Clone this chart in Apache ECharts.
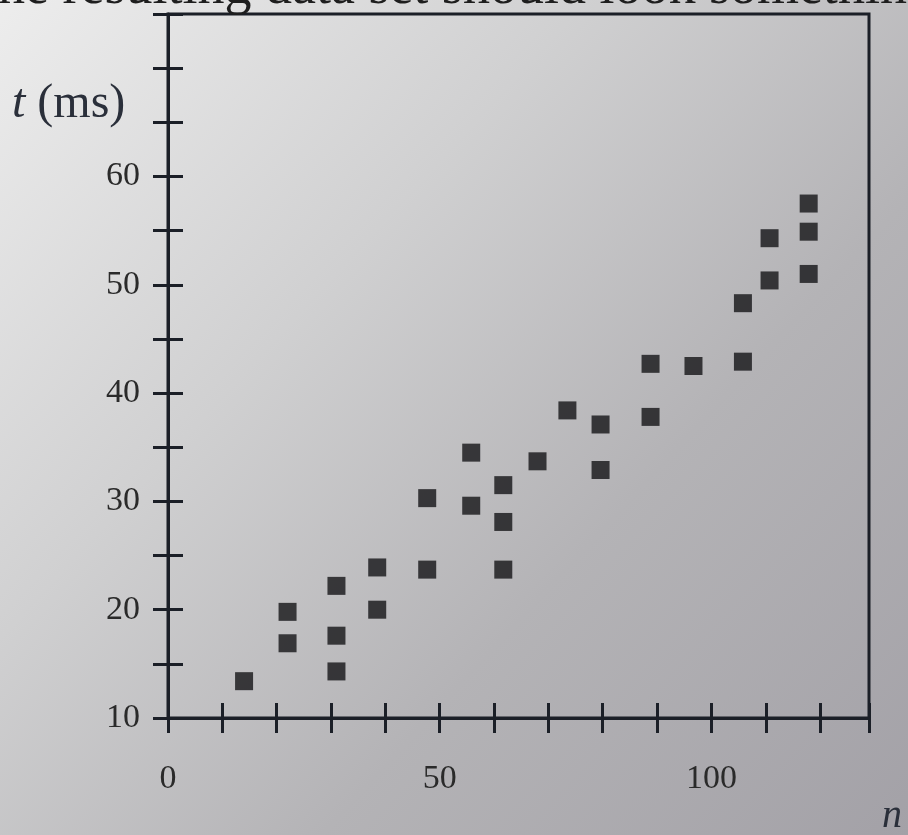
<!DOCTYPE html>
<html>
<head>
<meta charset="utf-8">
<script src="https://cdn.jsdelivr.net/npm/echarts@6/dist/echarts.min.js"></script>
<style>
html,body{margin:0;padding:0;width:908px;height:835px;overflow:hidden;}
#chart{width:908px;height:835px;}
</style>
</head>
<body>
<div id="chart"></div>
<script>
// n values (x) and t values in ms (y)
const nValues = [14, 22, 22, 31, 31, 31, 38.5, 38.5, 47.7, 47.7, 55.8, 55.8, 61.7, 61.7, 61.7, 68, 73.5, 79.6, 79.6, 88.8, 88.8, 96.7, 105.8, 105.8, 110.7, 110.7, 117.9, 117.9, 117.9];
const tValues = [13.4, 19.8, 16.9, 22.2, 17.6, 14.3, 23.9, 20.0, 30.3, 23.7, 34.5, 29.6, 31.5, 28.1, 23.7, 33.7, 38.4, 37.1, 32.9, 42.7, 37.8, 42.5, 48.3, 42.9, 54.3, 50.4, 57.5, 54.9, 51.0];
const xTickLabels = [0, 50, 100];
const yTickLabels = [10, 20, 30, 40, 50, 60];
const xAxisName = 'n';
const topText = 'the resulting data set should look something';

const points = nValues.map((n, i) => [n, tValues[i]]);

const ink = '#1b1f27';
const serif = '"Liberation Serif", "DejaVu Serif", serif';
const GRID = {left: 168, right: 39, top: 14, bottom: 117};
const half = 15; // tick half-length: ticks cross the axis line

const chart = echarts.init(document.getElementById('chart'));
const xBase = {
  type: 'value', min: 0, max: 129, interval: 10, position: 'bottom',
  splitLine: {show: false}
};
const yBase = {
  type: 'value', min: 10, max: 75, interval: 5, position: 'left',
  splitLine: {show: false}
};
const lineStyle = {show: true, lineStyle: {color: ink, width: 3}};
const tickOut = {show: true, inside: false, length: half, lineStyle: {color: ink, width: 3}};
const tickLong = {show: true, inside: false, length: 2 * half, lineStyle: {color: ink, width: 3}};
chart.setOption({
  backgroundColor: {
    type: 'linear', x: 0, y: 0, x2: 1, y2: 1,
    colorStops: [
      {offset: 0, color: '#ededed'},
      {offset: 0.35, color: '#d0d0d1'},
      {offset: 0.65, color: '#b4b3b6'},
      {offset: 1, color: '#a3a1a7'}
    ]
  },
  animation: false,
  grid: [
    Object.assign({show: true, borderColor: ink, borderWidth: 3, backgroundColor: 'transparent'}, GRID),
    // grid shifted right by half a tick: its y ticks straddle the main y axis
    {show: false, left: GRID.left + half, right: GRID.right, top: GRID.top, bottom: GRID.bottom},
    // grid shifted up by half a tick: its x ticks straddle the main x axis
    {show: false, left: GRID.left, right: GRID.right, top: GRID.top, bottom: GRID.bottom + half}
  ],
  xAxis: [
    Object.assign({}, xBase, {
      gridIndex: 0, axisLine: lineStyle, axisTick: tickOut,
      axisLabel: {
        show: true, margin: 44, color: '#2a2a2a', fontFamily: serif, fontSize: 34,
        formatter: v => xTickLabels.includes(v) ? String(v) : ''
      }
    }),
    Object.assign({}, xBase, {gridIndex: 1, show: false}),
    Object.assign({}, xBase, {gridIndex: 2, axisLine: {show: false}, axisTick: tickLong, axisLabel: {show: false}})
  ],
  yAxis: [
    Object.assign({}, yBase, {
      gridIndex: 0, axisLine: lineStyle, axisTick: tickOut,
      axisLabel: {
        show: true, margin: 28, color: '#2a2a2a', fontFamily: serif, fontSize: 34,
        formatter: v => yTickLabels.includes(v) ? String(v) : ''
      }
    }),
    Object.assign({}, yBase, {gridIndex: 1, axisLine: {show: false}, axisTick: tickLong, axisLabel: {show: false}}),
    Object.assign({}, yBase, {gridIndex: 2, show: false})
  ],
  graphic: [
    {
      type: 'text', left: 12, top: 80,
      style: {
        text: '{i|t}{r| (ms)}',
        rich: {
          i: {fontFamily: serif, fontStyle: 'italic', fontSize: 48, fill: '#2a2f3a'},
          r: {fontFamily: serif, fontSize: 48, fill: '#2a2f3a'}
        }
      }
    },
    {
      type: 'text', left: 882, top: 796,
      style: {text: xAxisName, fontFamily: serif, fontStyle: 'italic', fontSize: 40, fill: '#2a2f3a'}
    },
    {
      type: 'text', left: -17, top: -38,
      style: {text: topText, fontFamily: serif, fontSize: 54, fill: '#1e1e1e'}
    }
  ],
  series: [
    {
      type: 'scatter',
      xAxisIndex: 0, yAxisIndex: 0,
      symbol: 'rect',
      symbolSize: 18,
      itemStyle: {color: '#141416'},
      data: points
    },
    {type: 'scatter', xAxisIndex: 1, yAxisIndex: 1, silent: true, data: []},
    {type: 'scatter', xAxisIndex: 2, yAxisIndex: 2, silent: true, data: []}
  ]
});
</script>
</body>
</html>
